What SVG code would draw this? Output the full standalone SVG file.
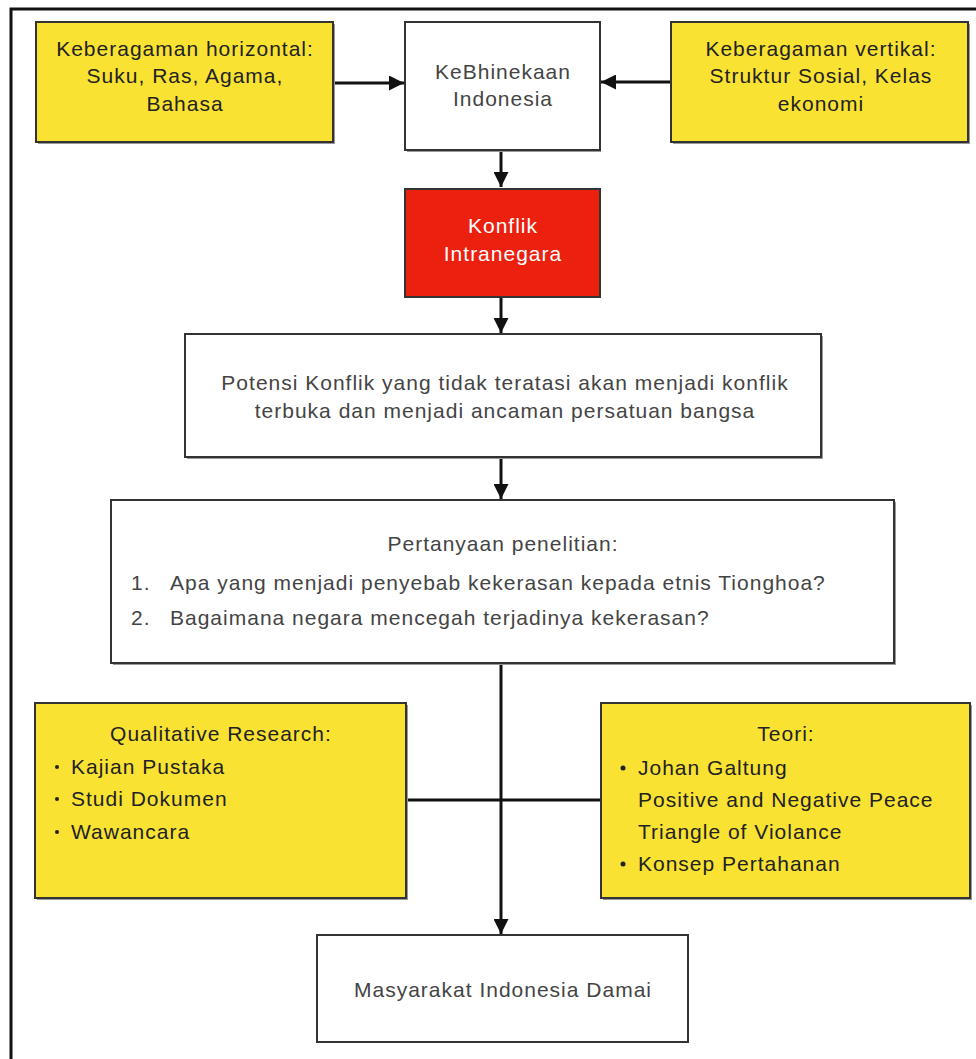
<svg xmlns="http://www.w3.org/2000/svg" width="976" height="1059" viewBox="0 0 976 1059">
<style>
  .box{stroke:#333;stroke-width:2}
  .yel{fill:#F9E232}
  .wht{fill:#fff}
  .red{fill:#EC200F}
  .sh{fill:#999}
  text{font-family:"Liberation Sans",Arial,sans-serif;font-size:21px;letter-spacing:1px;fill:#222}
  .c{text-anchor:middle}
  .g{fill:#444}
  .w{fill:#fff}
  .ln{stroke:#111;stroke-width:3;fill:none}
</style>
<defs>
  <marker id="ah" viewBox="0 0 10 10" refX="10" refY="5" markerWidth="5" markerHeight="5" orient="auto" markerUnits="strokeWidth">
    <path d="M0,0 L10,5 L0,10 z" fill="#111"/>
  </marker>
</defs>
<rect width="976" height="1059" fill="#fff"/>
<path d="M11,1059 V9 H976" stroke="#111" stroke-width="3" fill="none"/>

<g id="connectors">
  <line class="ln" x1="334" y1="83" x2="404" y2="83" marker-end="url(#ah)"/>
  <line class="ln" x1="671" y1="82" x2="601" y2="82" marker-end="url(#ah)"/>
  <line class="ln" x1="501" y1="151" x2="501" y2="187" marker-end="url(#ah)"/>
  <line class="ln" x1="501" y1="298" x2="501" y2="333" marker-end="url(#ah)"/>
  <line class="ln" x1="501" y1="457" x2="501" y2="499" marker-end="url(#ah)"/>
  <line class="ln" x1="501" y1="664" x2="501" y2="934" marker-end="url(#ah)"/>
  <line class="ln" x1="407" y1="800" x2="601" y2="800"/>
</g>

<g id="n-horizontal">
  <rect class="sh" x="38" y="24" width="297" height="120"/>
  <rect class="box yel" x="36" y="22" width="297" height="120"/>
  <text class="c" x="185" y="56">Keberagaman horizontal:</text>
  <text class="c" x="185" y="83">Suku, Ras, Agama,</text>
  <text class="c" x="185" y="111">Bahasa</text>
</g>

<g id="n-kebhinekaan">
  <rect class="sh" x="407" y="24" width="194" height="128"/>
  <rect class="box wht" x="405" y="22" width="195" height="128"/>
  <text class="c g" x="503" y="79">KeBhinekaan</text>
  <text class="c g" x="503" y="106">Indonesia</text>
</g>

<g id="n-vertikal">
  <rect class="sh" x="673" y="24" width="297" height="120"/>
  <rect class="box yel" x="671" y="22" width="297" height="120"/>
  <text class="c" x="821" y="56">Keberagaman vertikal:</text>
  <text class="c" x="821" y="83">Struktur Sosial, Kelas</text>
  <text class="c" x="821" y="111">ekonomi</text>
</g>

<g id="n-konflik">
  <rect class="box red" x="405" y="189" width="195" height="108"/>
  <text class="c w" x="503" y="233">Konflik</text>
  <text class="c w" x="503" y="261">Intranegara</text>
</g>

<g id="n-potensi">
  <rect class="sh" x="187" y="336" width="636" height="123"/>
  <rect class="box wht" x="185" y="334" width="636" height="123"/>
  <text class="c g" x="505" y="390">Potensi Konflik yang tidak teratasi akan menjadi konflik</text>
  <text class="c g" x="505" y="418">terbuka dan menjadi ancaman persatuan bangsa</text>
</g>

<g id="n-pertanyaan">
  <rect class="sh" x="113" y="502" width="783" height="163"/>
  <rect class="box wht" x="111" y="500" width="783" height="163"/>
  <text class="c g" x="503" y="551">Pertanyaan penelitian:</text>
  <text class="g" x="131" y="590">1.</text>
  <text class="g" x="170" y="590">Apa yang menjadi penyebab kekerasan kepada etnis Tionghoa?</text>
  <text class="g" x="131" y="625">2.</text>
  <text class="g" x="170" y="625">Bagaimana negara mencegah terjadinya kekerasan?</text>
</g>

<g id="n-qualitative">
  <rect class="sh" x="37" y="705" width="371" height="195"/>
  <rect class="box yel" x="35" y="703" width="371" height="195"/>
  <text class="c" x="221" y="741">Qualitative Research:</text>
  <circle cx="57" cy="767" r="2" fill="#222"/>
  <text x="71" y="774">Kajian Pustaka</text>
  <circle cx="57" cy="799" r="2" fill="#222"/>
  <text x="71" y="806">Studi Dokumen</text>
  <circle cx="57" cy="832" r="2" fill="#222"/>
  <text x="71" y="839">Wawancara</text>
</g>

<g id="n-teori">
  <rect class="sh" x="603" y="705" width="369" height="195"/>
  <rect class="box yel" x="601" y="703" width="369" height="195"/>
  <text class="c" x="786" y="741">Teori:</text>
  <circle cx="623" cy="768" r="2.5" fill="#222"/>
  <text x="638" y="775">Johan Galtung</text>
  <text x="638" y="807">Positive and Negative Peace</text>
  <text x="638" y="839">Triangle of Violance</text>
  <circle cx="623" cy="864" r="2.5" fill="#222"/>
  <text x="638" y="871">Konsep Pertahanan</text>
</g>

<g id="n-masyarakat">
  <rect class="box wht" x="317" y="935" width="371" height="107" stroke-width="1.5"/>
  <text class="c g" x="503" y="997">Masyarakat Indonesia Damai</text>
</g>
</svg>
